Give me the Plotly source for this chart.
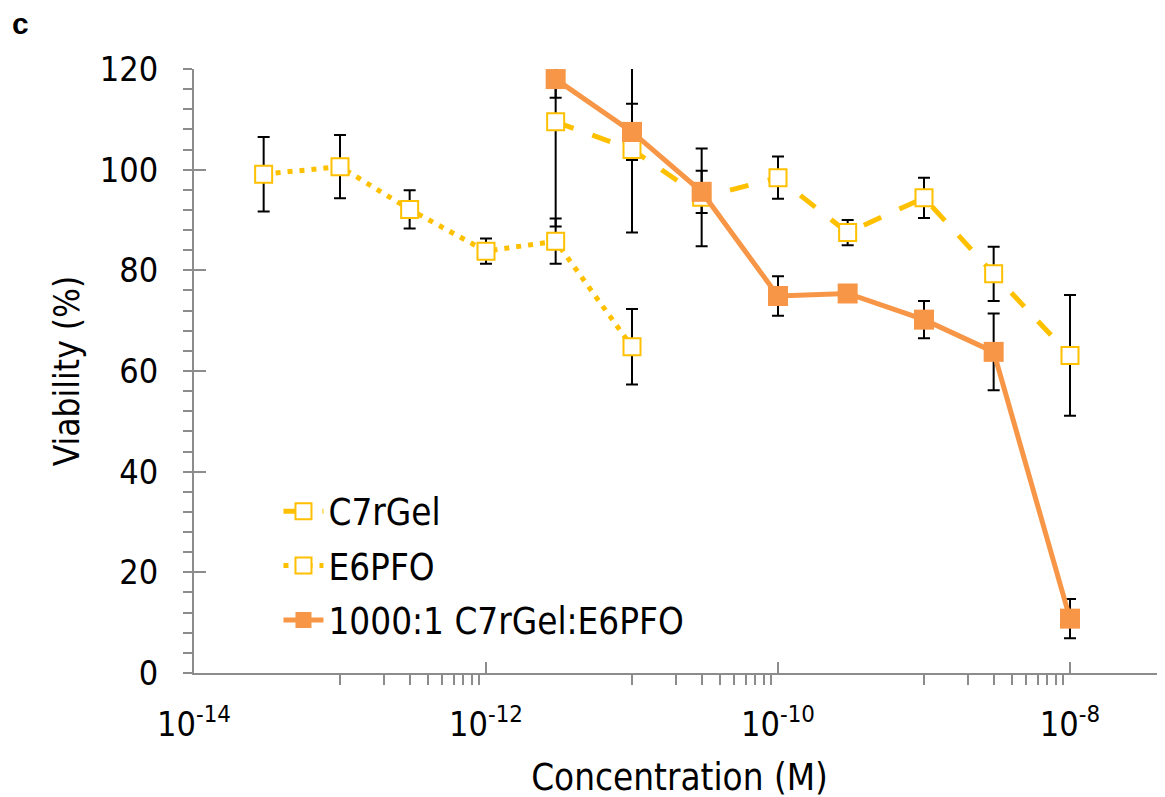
import plotly.graph_objects as go

# ---- data ----
conc_c7 = [3e-12, 1e-11, 3e-11, 1e-10, 3e-10, 1e-9, 3e-9, 1e-8]
via_c7 = [109.5, 104.0, 94.5, 98.4, 87.5, 94.4, 79.3, 63.1]
err_c7 = [20.8, 16.5, 9.7, 4.2, 2.5, 4.0, 5.4, 12.0]

conc_e6 = [3e-14, 1e-13, 3e-13, 1e-12, 3e-12, 1e-11]
via_e6 = [99.1, 100.6, 92.1, 83.8, 85.8, 64.8]
err_e6 = [7.4, 6.3, 3.8, 2.5, 4.5, 7.5]

conc_mix = [3e-12, 1e-11, 3e-11, 1e-10, 3e-10, 1e-9, 3e-9, 1e-8]
via_mix = [118.0, 107.5, 95.6, 74.9, 75.4, 70.2, 63.8, 10.8]
err_mix = [3.7, 5.6, 4.2, 3.9, 1.5, 3.7, 7.6, 3.9]

names = ["C7rGel", "E6PFO", "1000:1 C7rGel:E6PFO"]

x_major = [1e-14, 1e-12, 1e-10, 1e-8]
x_major_text = ["10<sup>-14</sup>", "10<sup>-12</sup>", "10<sup>-10</sup>", "10<sup>-8</sup>"]
x_minor = [k * 10.0 ** e for e in (-13, -11, -9) for k in range(1, 10)]
y_major = [0, 20, 40, 60, 80, 100, 120]

YELLOW = "#FFC000"
ORANGE = "#F79646"
AXIS = "#8C8C8C"
FONT = "Tahoma, 'DejaVu Sans Condensed', 'DejaVu Sans', sans-serif"

fig = go.Figure()

# error bars (drawn underneath everything)
for xs, ys, es in [(conc_c7, via_c7, err_c7), (conc_e6, via_e6, err_e6), (conc_mix, via_mix, err_mix)]:
    fig.add_trace(go.Scatter(
        x=xs, y=ys, mode="markers",
        marker=dict(size=1, color="rgba(0,0,0,0)"),
        error_y=dict(type="data", array=es, visible=True, color="black", thickness=2, width=6),
        showlegend=False, hoverinfo="skip", yaxis="y",
    ))

fig.add_trace(go.Scatter(
    x=conc_c7, y=via_c7, name=names[0], mode="lines+markers", yaxis="y2",
    line=dict(color=YELLOW, width=5, dash="19px,20px"),
    marker=dict(symbol="square", size=17, color="white", line=dict(color=YELLOW, width=2)),
    legendgroup="a",
))
fig.add_trace(go.Scatter(
    x=conc_e6, y=via_e6, name=names[1], mode="lines+markers", yaxis="y2",
    line=dict(color=YELLOW, width=5, dash="5px,7px"),
    marker=dict(symbol="square", size=17, color="white", line=dict(color=YELLOW, width=2)),
    legendgroup="b",
))
fig.add_trace(go.Scatter(
    x=conc_mix, y=via_mix, name=names[2], mode="lines+markers", yaxis="y2",
    line=dict(color=ORANGE, width=5),
    marker=dict(symbol="square", size=20, color=ORANGE, line=dict(width=0)),
    legendgroup="c",
))

# page body has an 8px margin: compensate so the plot area lands where intended
OFF = 8
xr = [-14, -14 + (1165 - 194) / 146.0]

fig.update_layout(
    width=1165, height=797,
    margin=dict(l=194 - OFF, r=OFF, t=69 - OFF, b=124 + OFF, autoexpand=False),
    paper_bgcolor="white", plot_bgcolor="white",
    font=dict(family=FONT, size=34, color="black"),
    title=dict(text="<b>c</b>", x=(12 - OFF) / 1165, xanchor="left", xref="container",
               y=1 - (23 - OFF) / 797, yanchor="middle", yref="container",
               font=dict(family="Arial, 'Liberation Sans', sans-serif", size=30, color="black")),
    showlegend=True,
    legend=dict(x=0.087, y=0.318, xanchor="left", yanchor="top", bgcolor="rgba(0,0,0,0)",
                font=dict(size=36.5, family=FONT), tracegroupgap=4, itemwidth=40),
    xaxis=dict(
        type="log", range=xr, showgrid=False, zeroline=False, automargin=False,
        showline=True, linecolor=AXIS, linewidth=2,
        tickmode="array", tickvals=x_major, ticktext=x_major_text,
        ticks="inside", ticklen=11, tickwidth=2, tickcolor=AXIS,
        ticklabelstandoff=20,
        tickfont=dict(size=34),
        minor=dict(tickmode="array", tickvals=x_minor, ticks="outside", ticklen=10,
                   tickwidth=1.5, tickcolor=AXIS, showgrid=False),
        title=dict(text="Concentration (M)", font=dict(size=36.5), standoff=22),
    ),
    yaxis=dict(
        range=[0, 120], showgrid=False, zeroline=False, automargin=False,
        showline=True, linecolor=AXIS, linewidth=2,
        tickmode="array", tickvals=y_major,
        ticks="outside", ticklen=9, tickwidth=2, tickcolor=AXIS,
        ticklabelstandoff=18,
        tickfont=dict(size=34),
        minor=dict(dtick=4, tick0=0, ticks="outside", ticklen=9, tickwidth=2,
                   tickcolor=AXIS, showgrid=False),
        title=dict(text="Viability (%)", font=dict(size=35), standoff=10),
    ),
    yaxis2=dict(
        range=[0, 120], overlaying="y", side="left", showgrid=False, zeroline=False,
        automargin=False,
        showline=False, tickmode="array", tickvals=y_major, showticklabels=False,
        ticks="inside", ticklen=12, tickwidth=2, tickcolor=AXIS,
    ),
)

fig.write_html("out.html")
